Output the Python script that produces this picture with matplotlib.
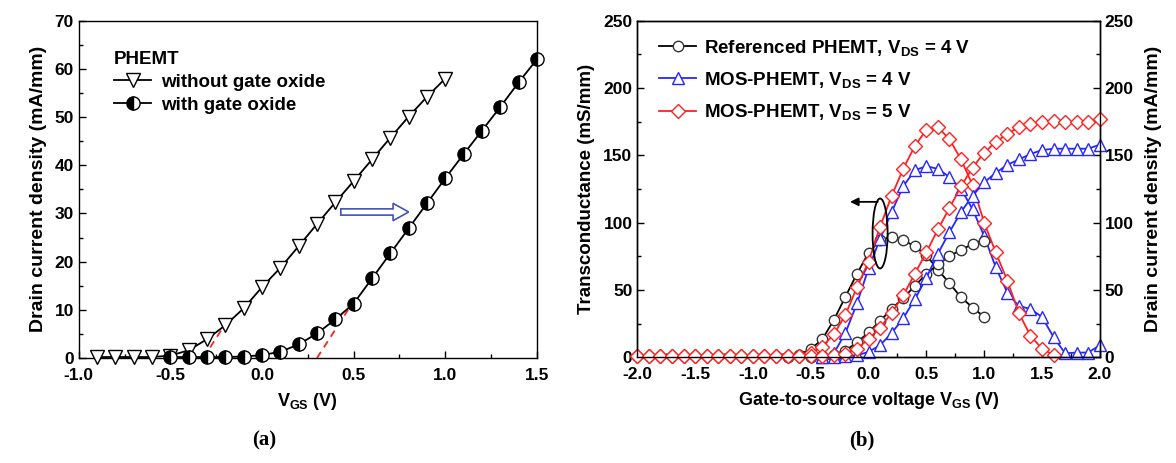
import numpy as np
import matplotlib.pyplot as plt
from matplotlib.patches import FancyArrow, Ellipse

plt.rcParams['font.family'] = ['Liberation Sans', 'DejaVu Sans']
plt.rcParams['font.weight'] = 'bold'
plt.rcParams['axes.labelweight'] = 'bold'
plt.rcParams['mathtext.fontset'] = 'custom'
plt.rcParams['mathtext.rm'] = 'Liberation Sans:bold'
plt.rcParams['mathtext.it'] = 'Liberation Sans:bold'
plt.rcParams['mathtext.bf'] = 'Liberation Sans:bold'
plt.rcParams['mathtext.default'] = 'rm'

# ---- panel (a): Id-Vgs, with / without gate oxide ----
vgs_a_no_ox = [-0.9, -0.8, -0.7, -0.6, -0.5, -0.4, -0.3, -0.2, -0.1, 0.0,
               0.1, 0.2, 0.3, 0.4, 0.5, 0.6, 0.7, 0.8, 0.9, 1.0]
id_no_ox = [0.2, 0.2, 0.2, 0.2, 0.5, 1.6, 3.9, 6.8, 10.3, 14.7,
            18.7, 23.2, 27.8, 32.3, 36.7, 41.2, 45.7, 50.1, 54.2, 58.0]
vgs_a_ox = [-0.5, -0.4, -0.3, -0.2, -0.1, 0.0, 0.1, 0.2, 0.3, 0.4, 0.5,
            0.6, 0.7, 0.8, 0.9, 1.0, 1.1, 1.2, 1.3, 1.4, 1.5]
id_ox = [0.2, 0.2, 0.2, 0.2, 0.3, 0.6, 1.3, 2.8, 5.1, 8.0, 11.3,
         16.5, 21.7, 26.9, 32.1, 37.3, 42.3, 47.2, 52.1, 57.2, 62.0]
# tangent (threshold) extrapolation lines
tan1_x = [-0.32, -0.215]
tan1_y = [0.0, 6.2]
tan2_x = [0.30, 0.47]
tan2_y = [0.0, 10.0]

# ---- panel (b): gm and Id vs Vgs ----
vgs_b = [-2.0, -1.9, -1.8, -1.7, -1.6, -1.5, -1.4, -1.3, -1.2, -1.1,
         -1.0, -0.9, -0.8, -0.7, -0.6, -0.5, -0.4, -0.3, -0.2, -0.1,
         0.0, 0.1, 0.2, 0.3, 0.4, 0.5, 0.6, 0.7, 0.8, 0.9,
         1.0, 1.1, 1.2, 1.3, 1.4, 1.5, 1.6, 1.7, 1.8, 1.9, 2.0]
# referenced PHEMT, Vds = 4 V (from -0.7 / -0.5 V to 1.0 V)
gm_ref = [0.5, 2, 6, 13.4, 27.7, 45, 62, 77.7, 87, 89.5,
          87, 82.5, 76, 65, 55, 44.5, 37, 30]
id_ref = [0.3, 0.8, 2, 5, 11, 18.5, 27, 36, 44, 53,
          62, 69, 75, 80, 84, 86.5]
# MOS-PHEMT, Vds = 4 V (from -0.4 V)
gm_mos4 = [0.5, 3, 18, 40, 66, 88, 108, 127, 139, 142,
           140, 134, 125, 110, 90, 67, 48, 38, 36, 30,
           15, 3, 3.5, 3.5, 9]
id_mos4 = [0, 0.3, 0.8, 1.5, 4, 9, 18, 29, 43, 59,
           77, 93, 108, 120, 130, 137, 143, 147, 151, 154,
           155, 155, 155, 155, 158]
# MOS-PHEMT, Vds = 5 V (gm to 1.6 V, Id over full sweep)
gm_mos5 = [1, 1, 1, 1, 1, 1, 1, 1, 1, 1, 1, 1, 1, 1, 1,
           3.5, 8, 17, 31.5, 52, 71, 97, 120, 140, 157, 169,
           171, 162, 147, 128, 100, 78, 57, 33, 16, 6.5, 1.5]
id_mos5 = [1, 1, 1, 1, 1, 1, 1, 1, 1, 1, 1, 1, 1, 1, 1, 1, 1,
           1.5, 2.5, 6.5, 13.5, 22, 33, 46, 62, 78, 95, 111, 127, 141,
           152, 160, 166, 171, 173.5, 175, 175.5, 175, 174.5, 175, 177]

red = '#ff2020'
blue = '#2626ff'

fig = plt.figure(figsize=(11.76, 4.63), dpi=100)
axa = fig.add_axes([0.0669, 0.2268, 0.3897, 0.7285])
axb = fig.add_axes([0.5419, 0.2283, 0.3933, 0.7267])

# ---------- (a) ----------
axa.plot(vgs_a_no_ox, id_no_ox, '-v', color='black', lw=1.3, ms=10,
         mfc='white', mec='black', mew=1.0, clip_on=False,
         label='without gate oxide', zorder=3)
axa.plot(vgs_a_ox, id_ox, '-o', color='black', lw=1.3, ms=9.5,
         fillstyle='left', mfc='black', mfcalt='white', mec='black', mew=1.0,
         clip_on=False, label='with gate oxide', zorder=3)
axa.plot(tan1_x, tan1_y, '--', color=red, lw=1.3, dashes=(4, 3), zorder=2)
axa.plot(tan2_x, tan2_y, '--', color=red, lw=1.3, dashes=(4, 3), zorder=2)
axa.add_patch(FancyArrow(0.43, 30.3, 0.37, 0, width=1.3, head_width=3.6,
                         head_length=0.085, length_includes_head=True,
                         fc='white', ec='#4055b8', lw=1.2, zorder=4))

axa.set_xlim(-1.0, 1.5)
axa.set_ylim(0, 70)
axa.set_xticks([-1.0, -0.5, 0.0, 0.5, 1.0, 1.5])
axa.set_xticklabels(['-1.0', '-0.5', '0.0', '0.5', '1.0', '1.5'])
axa.set_xticks(np.arange(-1.0, 1.51, 0.25), minor=True)
axa.set_yticks(range(0, 71, 10))
axa.set_yticks(range(0, 71, 5), minor=True)
axa.set_xlabel('V$_{GS}$ (V)', fontsize=13, labelpad=6)
axa.set_ylabel('Drain current density (mA/mm)', fontsize=14, labelpad=5)
leg = axa.legend(loc='upper left', bbox_to_anchor=(0.04, 0.96), frameon=False,
                 title='PHEMT', fontsize=13.5, title_fontsize=13.5,
                 handlelength=2.0, handletextpad=0.5, labelspacing=0.3,
                 alignment='left')
leg.get_title().set_fontweight('bold')

# ---------- (b) ----------
ax2 = axb.twinx()
mk = dict(mfc='white', mew=1.0, lw=1.3, clip_on=False)
# transconductance (left axis)
axb.plot(vgs_b[13:31], gm_ref, '-o', color='black', mec='#333333', ms=7.5, **mk)
axb.plot(vgs_b[16:], gm_mos4, '-^', color=blue, mec=blue, ms=8.5, **mk)
axb.plot(vgs_b[:37], gm_mos5, '-D', color=red, mec=red, ms=7.3, **mk)
# drain current density (right axis)
ax2.plot(vgs_b[15:31], id_ref, '-o', color='black', mec='#333333', ms=7.5, **mk)
ax2.plot(vgs_b[16:], id_mos4, '-^', color=blue, mec=blue, ms=8.5, **mk)
ax2.plot(vgs_b, id_mos5, '-D', color=red, mec=red, ms=7.3, **mk)

# ellipse + arrow marking the transconductance curves
axb.add_patch(Ellipse((0.10, 92), 0.13, 52, angle=0, fill=False,
                      ec='black', lw=1.3, zorder=5))
axb.annotate('', xy=(-0.16, 115.5), xytext=(0.08, 115.5),
             arrowprops=dict(arrowstyle='-|>', color='black', lw=1.3,
                             mutation_scale=12, shrinkA=0, shrinkB=0),
             zorder=5)

for ax in (axb, ax2):
    ax.set_ylim(0, 250)
    ax.set_yticks(range(0, 251, 50))
    ax.set_yticks(range(0, 251, 25), minor=True)
axb.set_xlim(-2.0, 2.0)
axb.set_xticks([-2.0, -1.5, -1.0, -0.5, 0.0, 0.5, 1.0, 1.5, 2.0])
axb.set_xticklabels(['-2.0', '-1.5', '-1.0', '-0.5', '0.0', '0.5',
                     '1.0', '1.5', '2.0'])
axb.set_xticks(np.arange(-2.0, 2.01, 0.25), minor=True)
axb.set_xlabel('Gate-to-source voltage V$_{GS}$ (V)', fontsize=13, labelpad=6)
axb.set_ylabel('Transconductance (mS/mm)', fontsize=13.5, labelpad=6)
ax2.set_ylabel('Drain current density (mA/mm)', fontsize=14, labelpad=8)

h = [plt.Line2D([], [], color='black', marker='o', mfc='white', mec='#333333', ms=7.5, lw=1.3),
     plt.Line2D([], [], color=blue, marker='^', mfc='white', mec=blue, ms=8.5, lw=1.3),
     plt.Line2D([], [], color=red, marker='D', mfc='white', mec=red, ms=7.3, lw=1.3)]
ax2.legend(h, ['Referenced PHEMT, V$_{DS}$ = 4 V', 'MOS-PHEMT, V$_{DS}$ = 4 V',
               'MOS-PHEMT, V$_{DS}$ = 5 V'],
           loc='upper left', bbox_to_anchor=(0.01, 1.0), frameon=False,
           fontsize=13.5, handlelength=2.0, handletextpad=0.4, labelspacing=0.65)

for ax in (axa, axb, ax2):
    ax.tick_params(which='major', direction='in', length=5, width=1.0,
                   labelsize=12.5)
    ax.tick_params(which='minor', direction='in', length=3, width=1.0)
    ax.tick_params(axis='x', pad=7)
    for s in ax.spines.values():
        s.set_linewidth(1.0)
axa.tick_params(which='both', top=False, right=False)
axb.tick_params(which='both', top=False, right=False)
ax2.tick_params(which='both', top=False, left=False)

fig.text(0.225, 0.048, '(a)', family=['Liberation Serif'], fontsize=15,
         fontweight='bold', ha='center', va='center')
fig.text(0.733, 0.048, '(b)', family=['Liberation Serif'], fontsize=15,
         fontweight='bold', ha='center', va='center')

fig.savefig('out.png', dpi=100)
